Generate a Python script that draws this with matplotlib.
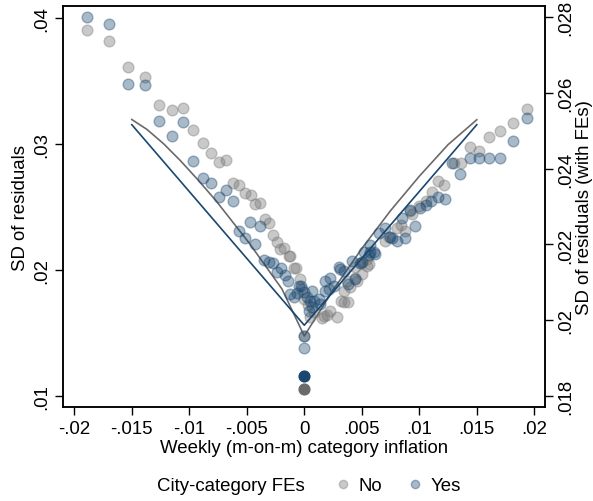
import matplotlib
matplotlib.use("Agg")
import matplotlib.pyplot as plt
from matplotlib.lines import Line2D

plt.rcParams["font.family"] = ["Liberation Sans", "DejaVu Sans"]

# binned SD of residuals, no fixed effects (left axis)
no_fe_x = [-0.01893, -0.01696, -0.01533, -0.01389, -0.01261, -0.01150, -0.01055, -0.00965,
           -0.00884, -0.00809, -0.00739, -0.00681, -0.00623, -0.00568, -0.00516, -0.00467,
           -0.00426, -0.00381, -0.00339, -0.00306, -0.00272, -0.00237, -0.00209, -0.00178,
           -0.00137, -0.00122, -0.00091, -0.00070, -0.00041, -0.00020, -0.00006, 0.00029,
           0.00052, 0.00081, 0.00154, 0.00168, 0.00197, 0.00226, 0.00284, 0.00322,
           0.00342, 0.00377, 0.00342, 0.00400, 0.00371, 0.00437, 0.00458, 0.00443,
           0.00496, 0.00502, 0.00542, 0.00545, 0.00565, 0.00704, 0.00733, 0.00806,
           0.00841, 0.00878, 0.00922, 0.00937, 0.00998, 0.01055, 0.01110, 0.01161,
           0.01219, 0.01304, 0.01363, 0.01437, 0.01522, 0.01609, 0.01704, 0.01815,
           0.01934, 0.0]
no_fe_sd = [0.03901, 0.03814, 0.03607, 0.03528, 0.03311, 0.03273, 0.03287, 0.03107,
            0.03006, 0.02925, 0.02855, 0.02874, 0.02691, 0.02675, 0.02611, 0.02595,
            0.02520, 0.02534, 0.02407, 0.02371, 0.02275, 0.02222, 0.02169, 0.02176,
            0.02113, 0.02107, 0.02017, 0.02013, 0.01928, 0.01848, 0.01769, 0.01721,
            0.01626, 0.01668, 0.01615, 0.01636, 0.01641, 0.01676, 0.01623, 0.01755,
            0.01742, 0.01747, 0.01835, 0.01862, 0.01914, 0.01933, 0.01914, 0.02021,
            0.02055, 0.01967, 0.02087, 0.02029, 0.02047, 0.02232, 0.02259, 0.02335,
            0.02357, 0.02308, 0.02471, 0.02444, 0.02508, 0.02550, 0.02622, 0.02703,
            0.02675, 0.02847, 0.02852, 0.02979, 0.02944, 0.03052, 0.03102, 0.03170,
            0.03279, 0.01475]

# binned SD of residuals, city-category FEs (right axis)
fe_x = [-0.01893, -0.01696, -0.01533, -0.01389, -0.01261, -0.01055, -0.01150, -0.00965,
        -0.00883, -0.00809, -0.00683, -0.00743, -0.00623, -0.00470, -0.00381, -0.00567,
        -0.00515, -0.00426, -0.00346, -0.00310, -0.00274, -0.00239, -0.00204, -0.00170,
        -0.00145, -0.00128, -0.00093, -0.00063, -0.00050, -0.00029, -0.00006, 0.00023,
        0.00067, 0.00046, 0.00081, 0.00124, 0.00139, 0.00037, 0.00067, 0.00183,
        0.00226, 0.00255, 0.00313, 0.00348, 0.00377, 0.00415, 0.00443, 0.00183,
        0.00211, 0.00502, 0.00574, 0.00617, 0.00298, 0.00481, 0.00516, 0.00568,
        0.00603, 0.00559, 0.00646, 0.00704, 0.00742, 0.00763, 0.00806, 0.00878,
        0.00850, 0.00922, 0.00965, 0.01009, 0.01058, 0.01104, 0.01159, 0.01226,
        0.01284, 0.01354, 0.01437, 0.01522, 0.01609, 0.01704, 0.01815, 0.01937,
        0.0, 0.0]
fe_sd = [0.02799, 0.02781, 0.02624, 0.02622, 0.02527, 0.02522, 0.02487, 0.02419,
         0.02376, 0.02363, 0.02343, 0.02325, 0.02314, 0.02260, 0.02250, 0.02235,
         0.02216, 0.02202, 0.02159, 0.02155, 0.02152, 0.02128, 0.02137, 0.02119,
         0.02105, 0.02069, 0.02062, 0.02072, 0.02091, 0.02090, 0.02074, 0.02061,
         0.02078, 0.02052, 0.02052, 0.02056, 0.02043, 0.02025, 0.02036, 0.02105,
         0.02112, 0.02091, 0.02136, 0.02129, 0.02096, 0.02157, 0.02109, 0.02078,
         0.02083, 0.02155, 0.02180, 0.02175, 0.02140, 0.02151, 0.02180, 0.02199,
         0.02181, 0.02171, 0.02231, 0.02244, 0.02219, 0.02217, 0.02208, 0.02217,
         0.02270, 0.02290, 0.02250, 0.02296, 0.02303, 0.02316, 0.02325, 0.02319,
         0.02415, 0.02385, 0.02429, 0.02427, 0.02429, 0.02429, 0.02473, 0.02534,
         0.01959, 0.01926]

# SD at exactly zero inflation
zero_no_fe = 0.01051
zero_fe = 0.01854

# fitted curves
fit_no_fe_x = [-0.015, -0.01368, -0.01223, -0.01078, -0.00933, -0.00774, -0.00484, -0.00194, 0.0,
               0.0025, 0.005, 0.0075, 0.01, 0.0125, 0.015]
fit_no_fe_sd = [0.03194, 0.03115, 0.03001, 0.02868, 0.02723, 0.02556, 0.02219, 0.01848, 0.01475,
                0.01839, 0.02169, 0.02470, 0.02743, 0.02994, 0.03192]
fit_fe_x = [-0.015, 0.0, 0.015]
fit_fe_sd = [0.02516, 0.01987, 0.02516]

xticks = [-0.02, -0.015, -0.01, -0.005, 0, 0.005, 0.01, 0.015, 0.02]
xticklabels = ["-.02", "-.015", "-.01", "-.005", "0", ".005", ".01", ".015", ".02"]
lticks = [0.01, 0.02, 0.03, 0.04]
lticklabels = [".01", ".02", ".03", ".04"]
rticks = [0.018, 0.02, 0.022, 0.024, 0.026, 0.028]
rticklabels = [".018", ".02", ".022", ".024", ".026", ".028"]

navy = "#1a476f"
gray = "#7a7a7a"
fs = 13.4

fig = plt.figure(figsize=(5.93, 5.02), dpi=100)
ax = fig.add_axes([0.1057, 0.187, 0.8133, 0.799])
ax2 = ax.twinx()

ax.scatter(no_fe_x, no_fe_sd, s=60, color=gray, alpha=0.4, linewidths=1, zorder=2)
ax.plot(fit_no_fe_x, fit_no_fe_sd, color="#6a6a6a", lw=1.2, zorder=3)
ax.scatter([0], [zero_no_fe], s=60, color="#6a6a6a", zorder=3)

ax2.scatter(fe_x, fe_sd, s=60, color=navy, alpha=0.38, linewidths=1, zorder=2)
ax2.plot(fit_fe_x, fit_fe_sd, color=navy, lw=1.2, zorder=3)
ax2.scatter([0], [zero_fe], s=60, color=navy, zorder=3)

ax.set_xlim(-0.02101, 0.02093)
ax.set_ylim(0.0091, 0.04095)
ax2.set_ylim(0.01771, 0.02829)

ax.set_xticks(xticks)
ax.set_xticklabels(xticklabels)
ax.set_yticks(lticks)
ax.set_yticklabels(lticklabels, rotation=90, va="center")
ax2.set_yticks(rticks)
ax2.set_yticklabels(rticklabels, rotation=90, va="center")

for a in (ax, ax2):
    a.tick_params(length=6, width=1, labelsize=fs, color="black", pad=3)
    for sp in a.spines.values():
        sp.set_linewidth(1.1)

ax.set_xlabel("Weekly (m-on-m) category inflation", fontsize=fs, labelpad=2)
ax.set_ylabel("SD of residuals", fontsize=fs, labelpad=3)
ax2.set_ylabel("SD of residuals (with FEs)", fontsize=fs, rotation=90, labelpad=1)

# legend row under the axis title
fig.text(0.265, 0.030, "City-category FEs", fontsize=fs, va="center")
handles = [Line2D([], [], ls="", marker="o", ms=6, color=gray, alpha=0.4),
           Line2D([], [], ls="", marker="o", ms=6, color=navy, alpha=0.38)]
fig.legend(handles, ["No", "Yes"], ncol=2, frameon=False, fontsize=fs,
           loc="center left", bbox_to_anchor=(0.535, 0.030),
           handletextpad=0.3, columnspacing=1.3, handlelength=1.0)

fig.savefig("out.png", dpi=100)
